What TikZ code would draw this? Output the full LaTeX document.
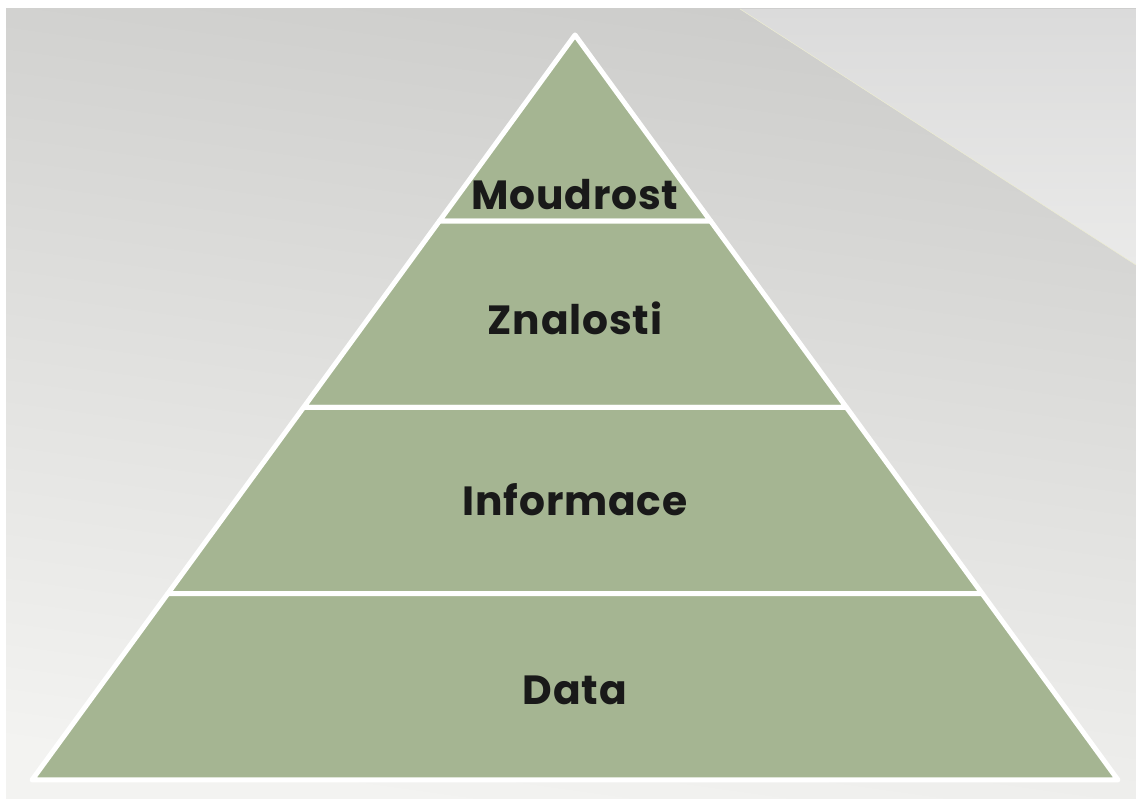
\documentclass[tikz,border=0pt]{standalone}
\usepackage{fontspec}
\newfontfamily\pyrfont[LetterSpace=2]{Poppins}
\usetikzlibrary{calc}

\definecolor{pyrgreen}{RGB}{165,181,146}
\definecolor{bgtop}{RGB}{205,205,203}
\definecolor{bgbottom}{RGB}{243,243,241}
\definecolor{bandtop}{RGB}{219,219,219}
\definecolor{bandbottom}{RGB}{234,234,233}

\begin{document}
\begin{tikzpicture}[x=0.025cm, y=0.025cm, layer/.style={fill=pyrgreen, draw=white, line width=0.125cm, line join=round}, lvltext/.style={font=\pyrfont\bfseries\fontsize{29}{34}\selectfont, text=black!90, inner sep=0pt}]
        \useasboundingbox (0,0) rectangle (1136,799);

        % Background with the lighter band at the top right
        \fill[white] (0,0) rectangle (1136,799);
        \shade[top color=bgtop, bottom color=bgbottom, shading angle=-8] (6,0) rectangle (1136,790);
        \shade[top color=bandtop, bottom color=bandbottom] (740,790) -- (1136,790) -- (1136,534) -- cycle;
        \draw[color=bandbottom!90!yellow, line width=0.4pt] (740,790) -- (1136,534);

        % Corners of the pyramid
        \coordinate (apex) at (575,764);
        \coordinate (bl) at (32,19);
        \coordinate (br) at (1118,19);

        % Four layers of equal height
        \foreach \a/\b in {0/0.25, 0.25/0.5, 0.5/0.75, 0.75/1} {
            \filldraw[layer] ($(apex)!\a!(bl)$) -- ($(apex)!\b!(bl)$) -- ($(apex)!\b!(br)$) -- ($(apex)!\a!(br)$) -- cycle;
        }

        % Level names
        \node[lvltext] (moudrost) at (575,604) {Moudrost};
        \node[lvltext] (znalosti) at (575,481) {Znalosti};
        \node[lvltext] (informace) at (575,299) {Informace};
        \node[lvltext] (data) at (575,109) {Data};

    \end{tikzpicture}
\end{document}
